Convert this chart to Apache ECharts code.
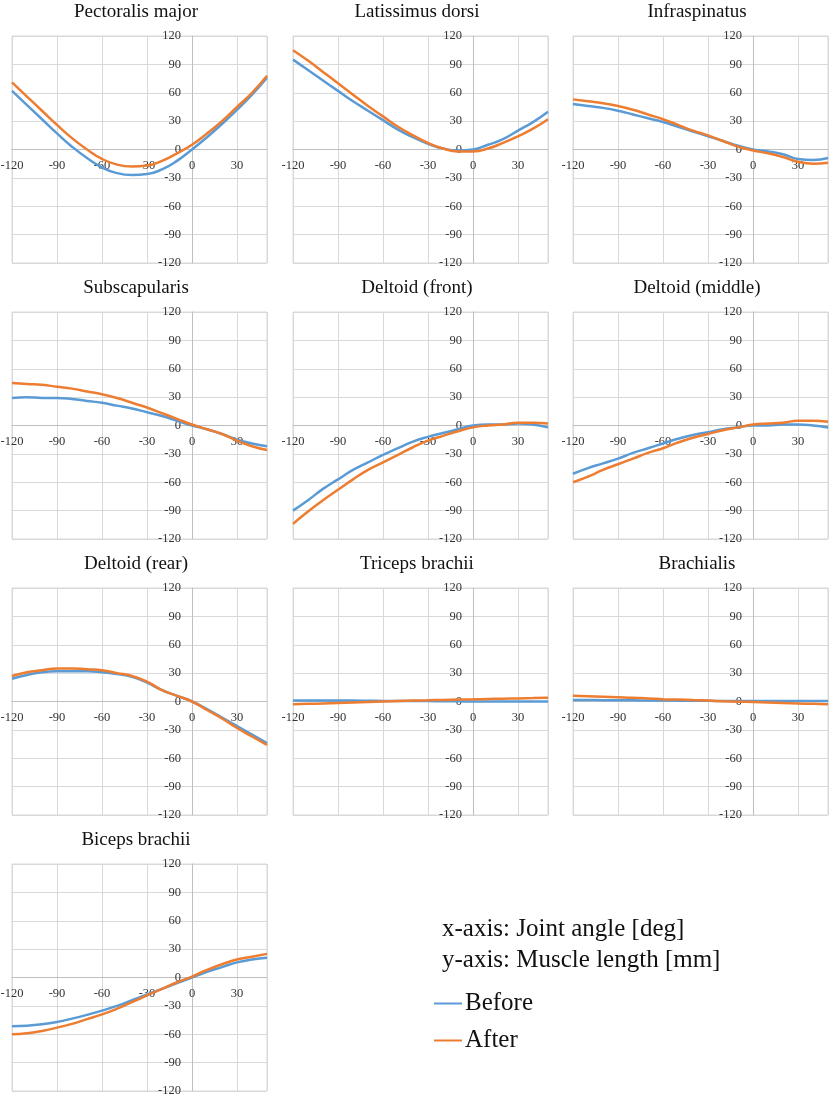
<!DOCTYPE html>
<html lang="en">
<head>
    <meta charset="UTF-8">
    <title>Muscle length</title>
    <script src="https://cdn.jsdelivr.net/npm/echarts@6.0.0/dist/echarts.min.js"></script>
    <style>
        body { margin: 0; background: #fff; }
    </style>
</head>
<body>
    <div id="main" style="width: 830px;height:1095px;"></div>
    <script type="text/javascript">
        // joint angle samples [deg]
        const angles = [-120, -110, -100, -90, -80, -70, -60, -50, -40, -30, -20, -10, 0, 10, 20, 30, 40, 50];
        const yTicks = [-120, -90, -60, -30, 0, 30, 60, 90, 120];

        const muscles = ['Pectoralis major', 'Latissimus dorsi', 'Infraspinatus',
            'Subscapularis', 'Deltoid (front)', 'Deltoid (middle)',
            'Deltoid (rear)', 'Triceps brachii', 'Brachialis', 'Biceps brachii'];

        // muscle length [mm], before / after
        const pecBefore = [62, 47, 32, 17, 3, -9, -19, -25, -27, -26, -21, -12, 0, 13, 27, 42, 58, 76];
        const pecAfter = [71, 56, 41, 26, 12, 0, -10, -16, -18, -17, -12, -4, 5, 17, 30, 45, 60, 78];
        const latBefore = [95, 84, 73, 62, 51, 41, 31, 21, 13, 6, 1, -1, 0, 5, 11, 20, 29, 40];
        const latAfter = [105, 94, 82, 70, 58, 46, 35, 24, 15, 7, 1, -2, -2, 1, 7, 14, 22, 32];
        const infBefore = [48, 46, 44, 41, 37, 33, 29, 24, 19, 14, 9, 4, 0, -2, -5, -10, -11, -9];
        const infAfter = [53, 51, 49, 46, 42, 37, 32, 26, 20, 15, 9, 3, -1, -4, -8, -13, -15, -14];
        const subBefore = [29, 30, 29, 29, 28, 26, 24, 21, 18, 14, 10, 5, 0, -4, -9, -15, -19, -22];
        const subAfter = [45, 44, 43, 41, 39, 36, 33, 29, 24, 19, 13, 7, 1, -4, -9, -16, -22, -26];
        const dfrBefore = [-90, -79, -67, -57, -47, -39, -31, -24, -17, -12, -8, -4, 0, 1, 1, 2, 1, -2];
        const dfrAfter = [-104, -91, -79, -68, -57, -47, -39, -31, -23, -16, -11, -6, -2, 0, 1, 3, 3, 2];
        const dmiBefore = [-51, -45, -40, -35, -29, -24, -19, -14, -10, -7, -4, -2, 0, 0, 1, 1, 0, -2];
        const dmiAfter = [-60, -54, -47, -41, -35, -29, -24, -18, -13, -9, -5, -2, 1, 2, 3, 5, 5, 4];
        const dreBefore = [24, 28, 31, 32, 32, 32, 31, 29, 26, 20, 12, 6, 0, -8, -17, -26, -35, -44];
        const dreAfter = [27, 31, 33, 35, 35, 34, 33, 30, 27, 21, 12, 6, 0, -9, -18, -28, -37, -46];
        const triBefore = [1, 1, 1, 1, 1, 0.8, 0.6, 0.5, 0.5, 0.4, 0.3, 0.2, 0, 0, 0, 0, 0, 0];
        const triAfter = [-3, -2.5, -2, -1.5, -1, -0.5, 0, 0.5, 1, 1.3, 1.7, 2, 2.3, 2.7, 3, 3.3, 3.6, 4];
        const braBefore = [1.5, 1.5, 1.4, 1.3, 1.2, 1.1, 1, 0.9, 0.8, 0.7, 0.6, 0.5, 0.5, 0.5, 0.5, 0.5, 0.5, 0.5];
        const braAfter = [6, 5.5, 5, 4.5, 4, 3.2, 2.5, 2, 1.5, 1, 0.3, -0.2, -0.5, -1, -1.5, -2, -2.5, -3];
        const bicBefore = [-51.5, -51, -49.5, -47, -43.5, -39.5, -35, -30, -24, -18, -12, -6, 0, 6, 11, 16, 19, 21];
        const bicAfter = [-60, -59, -56.5, -53, -49, -44, -39, -33, -26, -19, -12, -5, 1, 8, 14, 19, 22, 25];

        const beforeData = [pecBefore, latBefore, infBefore, subBefore, dfrBefore, dmiBefore, dreBefore, triBefore, braBefore, bicBefore];
        const afterData = [pecAfter, latAfter, infAfter, subAfter, dfrAfter, dmiAfter, dreAfter, triAfter, braAfter, bicAfter];

        const font = 'Liberation Serif, Times New Roman, serif';
        const colLeft = [12, 293, 573];
        const rowTop = [36, 312, 588, 864];
        const plotW = 255, plotH = 227;
        const xMin = -120, xMax = 50;
        // the axes cross at 0, so move them in from the grid edges
        const yAxisShift = plotW * (0 - xMin) / (xMax - xMin);
        const xAxisShift = plotH / 2;

        const pairs = (ys) => angles.map((a, i) => [a, ys[i]]);

        let grids = [], xAxes = [], yAxes = [], titles = [], series = [];
        muscles.forEach((name, i) => {
            const left = colLeft[i % 3], top = rowTop[Math.floor(i / 3)];
            grids.push({
                left: left, top: top, width: plotW, height: plotH,
                outerBoundsMode: 'none', containLabel: false,
                show: true, borderColor: '#d9d9d9', borderWidth: 1
            });
            titles.push({
                text: name, left: left + 119, top: top - 38, textAlign: 'center',
                textStyle: { fontFamily: font, fontSize: 19, fontWeight: 'normal', color: '#111' }
            });
            xAxes.push({
                gridIndex: i, type: 'value', min: xMin, max: xMax, interval: 30,
                position: 'bottom', offset: -xAxisShift,
                axisLine: { onZero: false, lineStyle: { color: '#bfbfbf', width: 1 } },
                axisTick: { show: false },
                axisLabel: { showMaxLabel: false, fontFamily: font, fontSize: 12.5, color: '#333', margin: 10 },
                splitLine: { lineStyle: { color: '#d9d9d9' } }
            });
            yAxes.push({
                gridIndex: i, type: 'value', min: yTicks[0], max: yTicks[yTicks.length - 1], interval: 30,
                position: 'left', offset: -yAxisShift,
                axisLine: { onZero: false, lineStyle: { color: '#bfbfbf', width: 1 } },
                axisTick: { show: false },
                axisLabel: { fontFamily: font, fontSize: 12.5, color: '#333', margin: 11 },
                splitLine: { lineStyle: { color: '#d9d9d9' } }
            });
            series.push({
                name: 'Before', type: 'line', xAxisIndex: i, yAxisIndex: i,
                data: pairs(beforeData[i]), smooth: true, showSymbol: false,
                lineStyle: { color: '#5b9bd5', width: 2.5 }, itemStyle: { color: '#5b9bd5' }
            });
            series.push({
                name: 'After', type: 'line', xAxisIndex: i, yAxisIndex: i,
                data: pairs(afterData[i]), smooth: true, showSymbol: false,
                lineStyle: { color: '#ed7d31', width: 2.5 }, itemStyle: { color: '#ed7d31' }
            });
        });

        let myChart = echarts.init(document.getElementById('main'), null, { renderer: 'canvas' });
        myChart.setOption({
            animation: false,
            title: titles,
            grid: grids,
            xAxis: xAxes,
            yAxis: yAxes,
            legend: {
                data: ['Before', 'After'], orient: 'vertical', left: 429, top: 986,
                icon: 'rect', itemWidth: 28, itemHeight: 2, itemGap: 12,
                textStyle: { fontFamily: font, fontSize: 25, color: '#111', padding: [0, 0, 0, -2] }
            },
            graphic: [
                { type: 'text', left: 442, top: 917, style: { text: 'x-axis: Joint angle [deg]', font: '25px ' + font, fill: '#111' } },
                { type: 'text', left: 442, top: 948, style: { text: 'y-axis: Muscle length [mm]', font: '25px ' + font, fill: '#111' } }
            ],
            series: series
        });
    </script>
</body>
</html>
